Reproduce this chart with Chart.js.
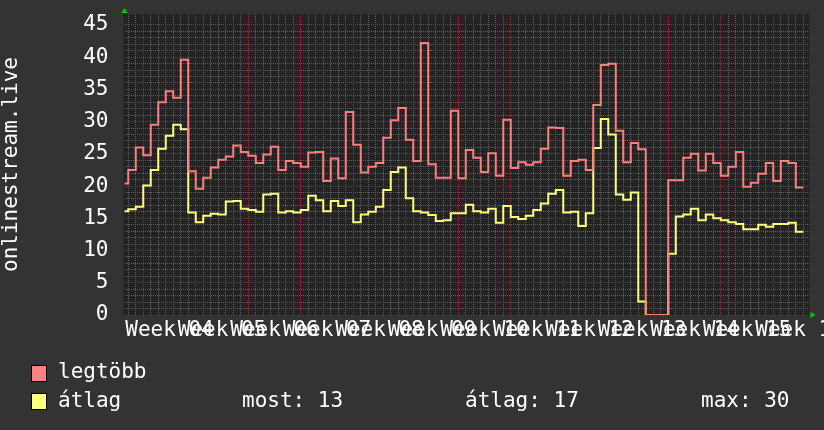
<!DOCTYPE html>
<html>
<head>
<meta charset="utf-8">
<script src="https://cdn.jsdelivr.net/npm/chart.js@4.4.1/dist/chart.umd.min.js"></script>
<style>
  html, body { margin: 0; padding: 0; background: #333333; }
  #wrap { position: relative; width: 824px; height: 430px; }
  #chart { display: block; }
  .leg { position: absolute; font: 21px/21px "DejaVu Sans Mono", monospace; color: #ffffff; white-space: pre; }
  .box { position: absolute; width: 16px; height: 17px; box-sizing: border-box; border: 1px solid #000; }
</style>
</head>
<body>
<div id="wrap">
  <canvas id="chart" width="824" height="430"></canvas>
  <div class="box" style="left:31px;top:365px;background:#ff8080"></div>
  <div class="leg" style="left:58px;top:361px">legtöbb</div>
  <div class="box" style="left:31px;top:393px;background:#ffff80"></div>
  <div class="leg" style="left:58px;top:390px">átlag</div>
  <div class="leg" style="left:242px;top:390px">most: 13</div>
  <div class="leg" style="left:465px;top:390px">átlag: 17</div>
  <div class="leg" style="left:701px;top:390px">max: 30</div>
</div>
<script>
// week labels under the x axis, one per week (centred mid-week)
const weekLabels = ['Week 04', 'Week 05', 'Week 06', 'Week 07', 'Week 08', 'Week 09', 'Week 10',
                    'Week 11', 'Week 12', 'Week 13', 'Week 14', 'Week 15', 'Week 16'];

// daily values, first entry is the day before the first full day (-1)
const firstDay = -1;

const legtobb = [
  20.4, 22.5, 26.0, 24.8, 29.5, 33.0, 34.7, 33.7, 39.6, 22.3,
  19.6, 21.3, 22.9, 24.1, 24.6, 26.3, 25.3, 24.7, 23.6, 24.9,
  26.1, 22.5, 23.9, 23.6, 23.0, 25.2, 25.3, 20.8, 24.3, 21.2,
  31.5, 26.4, 22.1, 23.0, 23.6, 27.5, 30.2, 32.1, 27.2, 23.9,
  42.2, 23.4, 21.3, 21.3, 31.7, 21.2, 25.6, 24.4, 22.2, 25.1,
  21.6, 30.3, 22.8, 23.7, 23.3, 23.7, 25.8, 29.1, 29.0, 21.6,
  23.9, 24.1, 22.5, 32.6, 38.8, 39.0, 28.6, 23.7, 26.7, 25.7,
  0, 0, 0, 20.9, 20.9, 24.4, 25.0, 22.4, 25.0, 23.6,
  21.6, 23.0, 25.3, 19.9, 20.5, 21.9, 23.6, 20.8, 23.9, 23.6,
  19.8
];

const atlag = [
  16.1, 16.4, 16.8, 20.1, 22.5, 25.8, 27.8, 29.5, 28.8, 15.9,
  14.4, 15.4, 15.7, 15.6, 17.6, 17.7, 16.5, 16.3, 16.0, 18.7,
  18.8, 15.9, 16.1, 15.9, 16.3, 18.5, 17.8, 16.1, 17.7, 16.9,
  17.8, 14.4, 15.6, 16.0, 16.8, 19.4, 22.2, 22.9, 18.1, 16.1,
  15.9, 15.5, 14.6, 14.7, 15.8, 15.8, 17.1, 16.1, 15.9, 16.5,
  14.3, 16.9, 15.2, 14.9, 15.4, 16.3, 17.3, 18.8, 19.4, 15.9,
  16.0, 13.8, 15.8, 25.9, 30.4, 28.0, 18.7, 17.9, 19.0, 2.1,
  0, 0, 0, 9.5, 15.3, 15.6, 16.5, 14.7, 15.6, 15.0,
  14.7, 14.4, 14.1, 13.3, 13.3, 14.0, 13.7, 14.1, 14.1, 14.3,
  12.9
];

const FONT = { family: 'DejaVu Sans Mono', size: 21 };
const minorGrid = '#606060';
const majorGrid = '#8a3434';
const none = 'rgba(0,0,0,0)';

function toPoints(vals) {
  const pts = vals.map((v, i) => ({ x: firstDay + i, y: v }));
  // hold the last value until the end of its day
  pts.push({ x: firstDay + vals.length, y: vals[vals.length - 1] });
  return pts;
}

const rrdLook = {
  id: 'rrdLook',
  beforeDraw(chart) {
    const { ctx, chartArea: a } = chart;
    ctx.save();
    ctx.fillStyle = '#333333';
    ctx.fillRect(0, 0, chart.width, chart.height);
    ctx.fillStyle = '#232323';
    ctx.fillRect(a.left - 1, a.top, a.right - a.left + 1, a.bottom - a.top + 1);
    ctx.restore();
  },
  afterDraw(chart) {
    const { ctx, chartArea: a } = chart;
    ctx.save();
    ctx.fillStyle = '#00cc00';
    // arrow on top of the y axis
    ctx.beginPath();
    ctx.moveTo(a.left - 3, a.top - 1);
    ctx.lineTo(a.left + 3, a.top - 1);
    ctx.lineTo(a.left, a.top - 6);
    ctx.closePath();
    ctx.fill();
    // arrow at the end of the x axis
    ctx.beginPath();
    ctx.moveTo(a.right + 1, a.bottom - 3);
    ctx.lineTo(a.right + 1, a.bottom + 3);
    ctx.lineTo(a.right + 6, a.bottom);
    ctx.closePath();
    ctx.fill();
    ctx.restore();
  }
};

const ctx = document.getElementById('chart').getContext('2d');

new Chart(ctx, {
  type: 'line',
  data: {
    datasets: [
      {
        label: 'legtöbb',
        data: toPoints(legtobb),
        borderColor: '#ff7f7f',
        borderWidth: 2,
        stepped: true,
        pointRadius: 0,
        fill: false
      },
      {
        label: 'átlag',
        data: toPoints(atlag),
        borderColor: '#ffff7f',
        borderWidth: 2,
        stepped: true,
        pointRadius: 0,
        fill: false
      }
    ]
  },
  options: {
    responsive: false,
    animation: false,
    layout: { padding: { top: 14, right: 14.5, bottom: 0, left: 0 } },
    plugins: {
      legend: { display: false },
      tooltip: { enabled: false }
    },
    scales: {
      x: {
        type: 'linear',
        min: -0.5,
        max: 90.83,
        afterBuildTicks: axis => {
          const t = [];
          for (let d = 0; d <= 90; d++) t.push({ value: d });
          weekLabels.forEach((w, i) => t.push({ value: 5.5 + 7 * i }));
          t.sort((a, b) => a.value - b.value);
          axis.ticks = t;
        },
        afterFit: scale => {
          scale.height = 115;
          scale.paddingLeft = 0;
          scale.paddingRight = 0;
        },
        ticks: {
          autoSkip: false,
          maxRotation: 0,
          minRotation: 0,
          padding: 3,
          color: '#ffffff',
          font: FONT,
          callback: v => {
            const i = (v - 5.5) / 7;
            return Number.isInteger(i) ? weekLabels[i] : '';
          }
        },
        grid: {
          drawTicks: false,
          lineWidth: 1,
          color: c => {
            const v = c.tick.value;
            if (!Number.isInteger(v)) return none;
            return ((v - 2) % 7 + 7) % 7 === 0 ? majorGrid : minorGrid;
          }
        },
        border: { display: false, dash: [1, 1] }
      },
      y: {
        min: 0,
        max: 46.7,
        afterFit: scale => {
          scale.width = 124.5;
          scale.paddingTop = 0;
          scale.paddingBottom = 0;
        },
        ticks: {
          stepSize: 1,
          autoSkip: false,
          padding: 16,
          color: '#ffffff',
          font: FONT,
          callback: v => (v % 5 === 0 ? String(v) : '')
        },
        grid: {
          drawTicks: false,
          lineWidth: 1,
          color: c => {
            const v = c.tick.value;
            if (!Number.isInteger(v)) return none;
            return v % 5 === 0 ? majorGrid : minorGrid;
          }
        },
        border: { display: false, dash: [1, 1] },
        title: {
          display: true,
          text: 'onlinestream.live',
          color: '#ffffff',
          font: FONT,
          padding: { top: -1.5, bottom: 0 }
        }
      }
    }
  },
  plugins: [rrdLook]
});
</script>
</body>
</html>
